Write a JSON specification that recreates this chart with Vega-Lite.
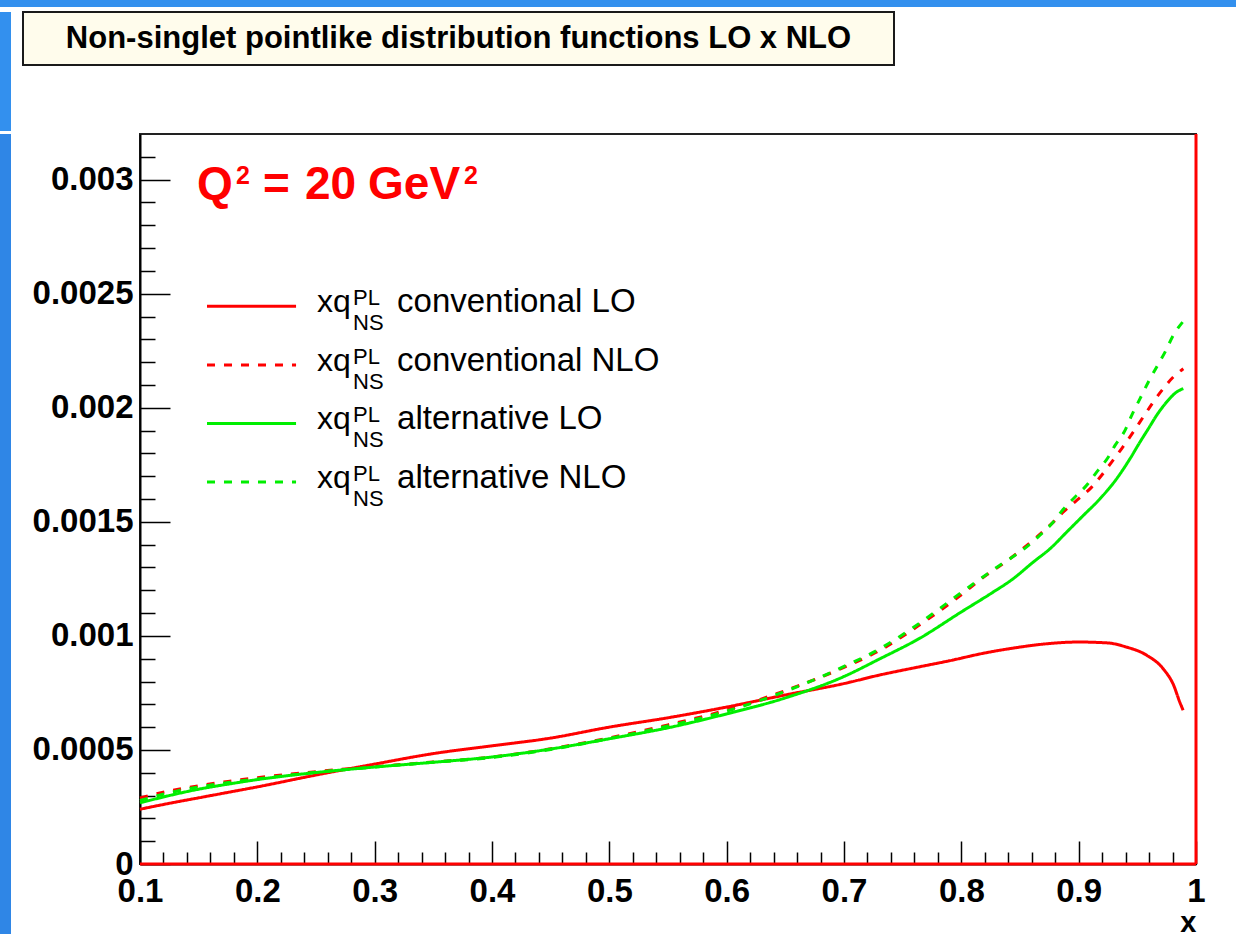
{
  "$schema": "https://vega.github.io/schema/vega-lite/v6.json",
  "background": "white",
  "padding": 0,
  "spacing": 4,
  "config": {
    "view": {"stroke": null},
    "font": "Liberation Sans",
    "text": {"font": "Liberation Sans"}
  },
  "datasets": {
    "curves": [
      {"x": 0.1, "v": 0.000240, "s": "conventional LO"},
      {"x": 0.125, "v": 0.000266, "s": "conventional LO"},
      {"x": 0.15, "v": 0.000290, "s": "conventional LO"},
      {"x": 0.175, "v": 0.000314, "s": "conventional LO"},
      {"x": 0.2, "v": 0.000338, "s": "conventional LO"},
      {"x": 0.25, "v": 0.000390, "s": "conventional LO"},
      {"x": 0.3, "v": 0.000438, "s": "conventional LO"},
      {"x": 0.35, "v": 0.000484, "s": "conventional LO"},
      {"x": 0.4, "v": 0.000518, "s": "conventional LO"},
      {"x": 0.45, "v": 0.000552, "s": "conventional LO"},
      {"x": 0.5, "v": 0.000600, "s": "conventional LO"},
      {"x": 0.55, "v": 0.000641, "s": "conventional LO"},
      {"x": 0.6, "v": 0.000688, "s": "conventional LO"},
      {"x": 0.65, "v": 0.000741, "s": "conventional LO"},
      {"x": 0.7, "v": 0.000791, "s": "conventional LO"},
      {"x": 0.73, "v": 0.000828, "s": "conventional LO"},
      {"x": 0.76, "v": 0.000860, "s": "conventional LO"},
      {"x": 0.79, "v": 0.000891, "s": "conventional LO"},
      {"x": 0.82, "v": 0.000925, "s": "conventional LO"},
      {"x": 0.845, "v": 0.000947, "s": "conventional LO"},
      {"x": 0.87, "v": 0.000964, "s": "conventional LO"},
      {"x": 0.9, "v": 0.000973, "s": "conventional LO"},
      {"x": 0.925, "v": 0.000969, "s": "conventional LO"},
      {"x": 0.94, "v": 0.000952, "s": "conventional LO"},
      {"x": 0.958, "v": 0.000915, "s": "conventional LO"},
      {"x": 0.972, "v": 0.000856, "s": "conventional LO"},
      {"x": 0.981, "v": 0.000783, "s": "conventional LO"},
      {"x": 0.986, "v": 0.000712, "s": "conventional LO"},
      {"x": 0.989, "v": 0.000674, "s": "conventional LO"},

      {"x": 0.1, "v": 0.000290, "s": "conventional NLO"},
      {"x": 0.125, "v": 0.000320, "s": "conventional NLO"},
      {"x": 0.15, "v": 0.000343, "s": "conventional NLO"},
      {"x": 0.175, "v": 0.000362, "s": "conventional NLO"},
      {"x": 0.2, "v": 0.000378, "s": "conventional NLO"},
      {"x": 0.25, "v": 0.000405, "s": "conventional NLO"},
      {"x": 0.3, "v": 0.000427, "s": "conventional NLO"},
      {"x": 0.35, "v": 0.000447, "s": "conventional NLO"},
      {"x": 0.4, "v": 0.000469, "s": "conventional NLO"},
      {"x": 0.45, "v": 0.000505, "s": "conventional NLO"},
      {"x": 0.5, "v": 0.000553, "s": "conventional NLO"},
      {"x": 0.55, "v": 0.000610, "s": "conventional NLO"},
      {"x": 0.6, "v": 0.000675, "s": "conventional NLO"},
      {"x": 0.65, "v": 0.000760, "s": "conventional NLO"},
      {"x": 0.7, "v": 0.000862, "s": "conventional NLO"},
      {"x": 0.73, "v": 0.000935, "s": "conventional NLO"},
      {"x": 0.765, "v": 0.001050, "s": "conventional NLO"},
      {"x": 0.8, "v": 0.001180, "s": "conventional NLO"},
      {"x": 0.8173, "v": 0.001251, "s": "conventional NLO"},
      {"x": 0.8414, "v": 0.001338, "s": "conventional NLO"},
      {"x": 0.8642, "v": 0.001433, "s": "conventional NLO"},
      {"x": 0.877, "v": 0.001492, "s": "conventional NLO"},
      {"x": 0.8869, "v": 0.001543, "s": "conventional NLO"},
      {"x": 0.8983, "v": 0.001594, "s": "conventional NLO"},
      {"x": 0.9111, "v": 0.001652, "s": "conventional NLO"},
      {"x": 0.9196, "v": 0.001704, "s": "conventional NLO"},
      {"x": 0.9281, "v": 0.001762, "s": "conventional NLO"},
      {"x": 0.9367, "v": 0.001821, "s": "conventional NLO"},
      {"x": 0.9466, "v": 0.001894, "s": "conventional NLO"},
      {"x": 0.9551, "v": 0.001960, "s": "conventional NLO"},
      {"x": 0.9636, "v": 0.002025, "s": "conventional NLO"},
      {"x": 0.9721, "v": 0.002084, "s": "conventional NLO"},
      {"x": 0.9807, "v": 0.002135, "s": "conventional NLO"},
      {"x": 0.9892, "v": 0.002171, "s": "conventional NLO"},

      {"x": 0.1, "v": 0.000268, "s": "alternative LO"},
      {"x": 0.125, "v": 0.000300, "s": "alternative LO"},
      {"x": 0.15, "v": 0.000328, "s": "alternative LO"},
      {"x": 0.175, "v": 0.000350, "s": "alternative LO"},
      {"x": 0.2, "v": 0.000370, "s": "alternative LO"},
      {"x": 0.25, "v": 0.000401, "s": "alternative LO"},
      {"x": 0.3, "v": 0.000425, "s": "alternative LO"},
      {"x": 0.35, "v": 0.000446, "s": "alternative LO"},
      {"x": 0.4, "v": 0.000469, "s": "alternative LO"},
      {"x": 0.45, "v": 0.000504, "s": "alternative LO"},
      {"x": 0.5, "v": 0.000549, "s": "alternative LO"},
      {"x": 0.55, "v": 0.000597, "s": "alternative LO"},
      {"x": 0.6, "v": 0.000658, "s": "alternative LO"},
      {"x": 0.65, "v": 0.000728, "s": "alternative LO"},
      {"x": 0.7, "v": 0.000822, "s": "alternative LO"},
      {"x": 0.73, "v": 0.000898, "s": "alternative LO"},
      {"x": 0.765, "v": 0.000991, "s": "alternative LO"},
      {"x": 0.8, "v": 0.001105, "s": "alternative LO"},
      {"x": 0.825, "v": 0.001185, "s": "alternative LO"},
      {"x": 0.8443, "v": 0.001251, "s": "alternative LO"},
      {"x": 0.8614, "v": 0.001324, "s": "alternative LO"},
      {"x": 0.8756, "v": 0.001382, "s": "alternative LO"},
      {"x": 0.8898, "v": 0.001455, "s": "alternative LO"},
      {"x": 0.904, "v": 0.001528, "s": "alternative LO"},
      {"x": 0.9182, "v": 0.001601, "s": "alternative LO"},
      {"x": 0.9324, "v": 0.001689, "s": "alternative LO"},
      {"x": 0.9438, "v": 0.001777, "s": "alternative LO"},
      {"x": 0.9523, "v": 0.001850, "s": "alternative LO"},
      {"x": 0.9594, "v": 0.001908, "s": "alternative LO"},
      {"x": 0.9665, "v": 0.001967, "s": "alternative LO"},
      {"x": 0.975, "v": 0.002025, "s": "alternative LO"},
      {"x": 0.9835, "v": 0.002069, "s": "alternative LO"},
      {"x": 0.9892, "v": 0.002084, "s": "alternative LO"},

      {"x": 0.1, "v": 0.000278, "s": "alternative NLO"},
      {"x": 0.125, "v": 0.000312, "s": "alternative NLO"},
      {"x": 0.15, "v": 0.000338, "s": "alternative NLO"},
      {"x": 0.175, "v": 0.000357, "s": "alternative NLO"},
      {"x": 0.2, "v": 0.000373, "s": "alternative NLO"},
      {"x": 0.25, "v": 0.000402, "s": "alternative NLO"},
      {"x": 0.3, "v": 0.000425, "s": "alternative NLO"},
      {"x": 0.35, "v": 0.000446, "s": "alternative NLO"},
      {"x": 0.4, "v": 0.000467, "s": "alternative NLO"},
      {"x": 0.45, "v": 0.000502, "s": "alternative NLO"},
      {"x": 0.5, "v": 0.000550, "s": "alternative NLO"},
      {"x": 0.55, "v": 0.000605, "s": "alternative NLO"},
      {"x": 0.6, "v": 0.000670, "s": "alternative NLO"},
      {"x": 0.65, "v": 0.000757, "s": "alternative NLO"},
      {"x": 0.7, "v": 0.000866, "s": "alternative NLO"},
      {"x": 0.73, "v": 0.000942, "s": "alternative NLO"},
      {"x": 0.765, "v": 0.001058, "s": "alternative NLO"},
      {"x": 0.8, "v": 0.001190, "s": "alternative NLO"},
      {"x": 0.83, "v": 0.001300, "s": "alternative NLO"},
      {"x": 0.8557, "v": 0.001390, "s": "alternative NLO"},
      {"x": 0.867, "v": 0.001441, "s": "alternative NLO"},
      {"x": 0.8784, "v": 0.001499, "s": "alternative NLO"},
      {"x": 0.8869, "v": 0.001555, "s": "alternative NLO"},
      {"x": 0.8969, "v": 0.001609, "s": "alternative NLO"},
      {"x": 0.9068, "v": 0.001660, "s": "alternative NLO"},
      {"x": 0.9153, "v": 0.001718, "s": "alternative NLO"},
      {"x": 0.9253, "v": 0.001784, "s": "alternative NLO"},
      {"x": 0.931, "v": 0.001835, "s": "alternative NLO"},
      {"x": 0.9395, "v": 0.001901, "s": "alternative NLO"},
      {"x": 0.9452, "v": 0.001967, "s": "alternative NLO"},
      {"x": 0.9523, "v": 0.002040, "s": "alternative NLO"},
      {"x": 0.9594, "v": 0.002113, "s": "alternative NLO"},
      {"x": 0.9665, "v": 0.002179, "s": "alternative NLO"},
      {"x": 0.9736, "v": 0.002244, "s": "alternative NLO"},
      {"x": 0.9807, "v": 0.002318, "s": "alternative NLO"},
      {"x": 0.9892, "v": 0.002379, "s": "alternative NLO"}
    ],
    "entries": [
      {"order": 1, "s": "conventional LO"},
      {"order": 2, "s": "conventional NLO"},
      {"order": 3, "s": "alternative LO"},
      {"order": 4, "s": "alternative NLO"}
    ]
  },
  "vconcat": [
    {
      "width": 1236, "height": 7,
      "view": {"fill": "#3390ee", "stroke": null},
      "data": {"values": []},
      "mark": "rect",
      "encoding": {}
    },
    {
      "spacing": 0,
      "vconcat": [
        {
          "spacing": 11,
          "hconcat": [
            {
              "width": 11, "height": 119,
              "view": {"fill": "#3390ee", "stroke": null},
              "data": {"values": []},
              "mark": "rect",
              "encoding": {}
            },
            {
              "width": 871, "height": 53,
              "view": {"fill": "#fffcec", "stroke": "#1a1a1a", "strokeWidth": 2},
              "data": {"values": [{"t": "Non-singlet pointlike distribution functions LO x NLO"}]},
              "mark": {"type": "text", "font": "Liberation Sans", "fontWeight": "bold", "fontSize": 31, "color": "black", "align": "center", "baseline": "middle"},
              "encoding": {"text": {"field": "t"}}
            }
          ]
        },
        {
          "spacing": 20,
          "hconcat": [
            {
              "width": 11, "height": 806,
              "view": {"fill": "#2f86e6", "stroke": null},
              "data": {"values": []},
              "mark": "rect",
              "encoding": {}
            },
            {
              "width": 1056, "height": 730,
              "view": {"fill": "white", "stroke": "#222222", "strokeWidth": 2},
              "resolve": {"scale": {"y": "independent"}},
              "layer": [
                {
                  "layer": [
                    {
                      "data": {"name": "curves"},
                      "mark": {"type": "line", "strokeWidth": 3, "interpolate": "monotone"},
                      "encoding": {
                        "x": {
                          "field": "x", "type": "quantitative",
                          "scale": {"domain": [0.1, 1], "nice": false, "zero": false},
                          "axis": {
                            "title": "x",
                            "tickCount": 200,
                            "values": [0.1,0.12,0.14,0.16,0.18,0.2,0.22,0.24,0.26,0.28,0.3,0.32,0.34,0.36,0.38,0.4,0.42,0.44,0.46,0.48,0.5,0.52,0.54,0.56,0.58,0.6,0.62,0.64,0.66,0.68,0.7,0.72,0.74,0.76,0.78,0.8,0.82,0.84,0.86,0.88,0.9,0.92,0.94,0.96,0.98,1],
                            "labelExpr": "round(datum.value*100) % 10 === 0 ? format(datum.value, '~g') : ''",
                            "tickSize": {"condition": {"test": "round(datum.value*100) % 10 === 0", "value": -23}, "value": -12},
                            "tickColor": "black", "tickWidth": 1.5,
                            "domainColor": "black", "domainWidth": 2,
                            "grid": false,
                            "labelFont": "Liberation Sans", "labelFontWeight": "bold", "labelFontSize": 33, "labelColor": "black",
                            "labelPadding": 34, "labelFlush": false, "labelOverlap": false,
                            "titleFont": "Liberation Sans", "titleFontWeight": "bold", "titleFontSize": 29, "titleColor": "black",
                            "titleAnchor": "end", "titleAlign": "right", "titlePadding": -11
                          }
                        },
                        "y": {
                          "field": "v", "type": "quantitative",
                          "scale": {"domain": [0, 0.0032], "nice": false, "zero": false},
                          "axis": {
                            "title": null,
                            "tickCount": 200,
                            "values": [0,0.0001,0.0002,0.0003,0.0004,0.0005,0.0006,0.0007,0.0008,0.0009,0.001,0.0011,0.0012,0.0013,0.0014,0.0015,0.0016,0.0017,0.0018,0.0019,0.002,0.0021,0.0022,0.0023,0.0024,0.0025,0.0026,0.0027,0.0028,0.0029,0.003,0.0031],
                            "labelExpr": "round(datum.value*10000) % 5 === 0 ? format(datum.value, '~g') : ''",
                            "tickSize": {"condition": {"test": "round(datum.value*10000) % 5 === 0", "value": -30}, "value": -15},
                            "tickColor": "black", "tickWidth": 1.5,
                            "domainColor": "black", "domainWidth": 2,
                            "grid": false,
                            "labelFont": "Liberation Sans", "labelFontWeight": "bold", "labelFontSize": 33, "labelColor": "black",
                            "labelPadding": 37, "labelFlush": false, "labelOverlap": false
                          }
                        },
                        "color": {
                          "field": "s", "type": "nominal", "legend": null,
                          "scale": {"domain": ["conventional LO", "conventional NLO", "alternative LO", "alternative NLO"], "range": ["#ff0000", "#ff0000", "#00ee00", "#00ee00"]}
                        },
                        "strokeDash": {
                          "field": "s", "type": "nominal", "legend": null,
                          "scale": {"domain": ["conventional LO", "conventional NLO", "alternative LO", "alternative NLO"], "range": [[1, 0], [8, 9], [1, 0], [8, 9]]}
                        },
                        "order": {"field": "x", "type": "quantitative"}
                      }
                    },
                    {
                      "data": {"values": [{}]},
                      "mark": {"type": "rule", "color": "#ff0000", "strokeWidth": 3},
                      "encoding": {"x": {"datum": 1}}
                    },
                    {
                      "data": {"values": [{}]},
                      "mark": {"type": "rule", "color": "#ff0000", "strokeWidth": 3},
                      "encoding": {"y": {"datum": 0}}
                    },
                    {
                      "data": {"values": [{}]},
                      "mark": {"type": "text", "text": "Q", "fontSize": 46, "fontWeight": "bold", "color": "#ff0000", "align": "left", "baseline": "alphabetic"},
                      "encoding": {"x": {"datum": 0.1486}, "y": {"datum": 0.002915}}
                    },
                    {
                      "data": {"values": [{}]},
                      "mark": {"type": "text", "text": "2", "fontSize": 25, "fontWeight": "bold", "color": "#ff0000", "align": "left", "baseline": "alphabetic", "dx": 39, "dy": -15},
                      "encoding": {"x": {"datum": 0.1486}, "y": {"datum": 0.002915}}
                    },
                    {
                      "data": {"values": [{}]},
                      "mark": {"type": "text", "text": "=", "fontSize": 46, "fontWeight": "bold", "color": "#ff0000", "align": "left", "baseline": "alphabetic", "dx": 66},
                      "encoding": {"x": {"datum": 0.1486}, "y": {"datum": 0.002915}}
                    },
                    {
                      "data": {"values": [{}]},
                      "mark": {"type": "text", "text": "20", "fontSize": 46, "fontWeight": "bold", "color": "#ff0000", "align": "left", "baseline": "alphabetic", "dx": 108},
                      "encoding": {"x": {"datum": 0.1486}, "y": {"datum": 0.002915}}
                    },
                    {
                      "data": {"values": [{}]},
                      "mark": {"type": "text", "text": "GeV", "fontSize": 46, "fontWeight": "bold", "color": "#ff0000", "align": "left", "baseline": "alphabetic", "dx": 171},
                      "encoding": {"x": {"datum": 0.1486}, "y": {"datum": 0.002915}}
                    },
                    {
                      "data": {"values": [{}]},
                      "mark": {"type": "text", "text": "2", "fontSize": 25, "fontWeight": "bold", "color": "#ff0000", "align": "left", "baseline": "alphabetic", "dx": 267, "dy": -15},
                      "encoding": {"x": {"datum": 0.1486}, "y": {"datum": 0.002915}}
                    }
                  ]
                },
                {
                  "data": {"name": "entries"},
                  "layer": [
                    {
                      "mark": {"type": "rule", "strokeWidth": 3},
                      "encoding": {
                        "x": {"datum": 0.1571},
                        "x2": {"datum": 0.2330},
                        "y": {"field": "order", "type": "quantitative", "axis": null,
                              "scale": {"domain": [-1.94, 10.517], "reverse": true, "nice": false, "zero": false}},
                        "color": {
                          "field": "s", "type": "nominal", "legend": null,
                          "scale": {"domain": ["conventional LO", "conventional NLO", "alternative LO", "alternative NLO"], "range": ["#ff0000", "#ff0000", "#00ee00", "#00ee00"]}
                        },
                        "strokeDash": {
                          "field": "s", "type": "nominal", "legend": null,
                          "scale": {"domain": ["conventional LO", "conventional NLO", "alternative LO", "alternative NLO"], "range": [[1, 0], [8, 9], [1, 0], [8, 9]]}
                        }
                      }
                    },
                    {
                      "mark": {"type": "text", "text": "xq", "fontSize": 32, "color": "black", "align": "left", "baseline": "alphabetic", "dy": 6},
                      "encoding": {"x": {"datum": 0.2509}, "y": {"field": "order", "type": "quantitative"}}
                    },
                    {
                      "mark": {"type": "text", "text": "PL", "fontSize": 22, "color": "black", "align": "left", "baseline": "alphabetic", "dx": 36, "dy": -1},
                      "encoding": {"x": {"datum": 0.2509}, "y": {"field": "order", "type": "quantitative"}}
                    },
                    {
                      "mark": {"type": "text", "text": "NS", "fontSize": 22, "color": "black", "align": "left", "baseline": "alphabetic", "dx": 36, "dy": 24},
                      "encoding": {"x": {"datum": 0.2509}, "y": {"field": "order", "type": "quantitative"}}
                    },
                    {
                      "mark": {"type": "text", "fontSize": 33, "color": "black", "align": "left", "baseline": "alphabetic", "dx": 80, "dy": 6},
                      "encoding": {"x": {"datum": 0.2509}, "y": {"field": "order", "type": "quantitative"}, "text": {"field": "s"}}
                    }
                  ]
                }
              ]
            }
          ]
        }
      ]
    }
  ]
}
